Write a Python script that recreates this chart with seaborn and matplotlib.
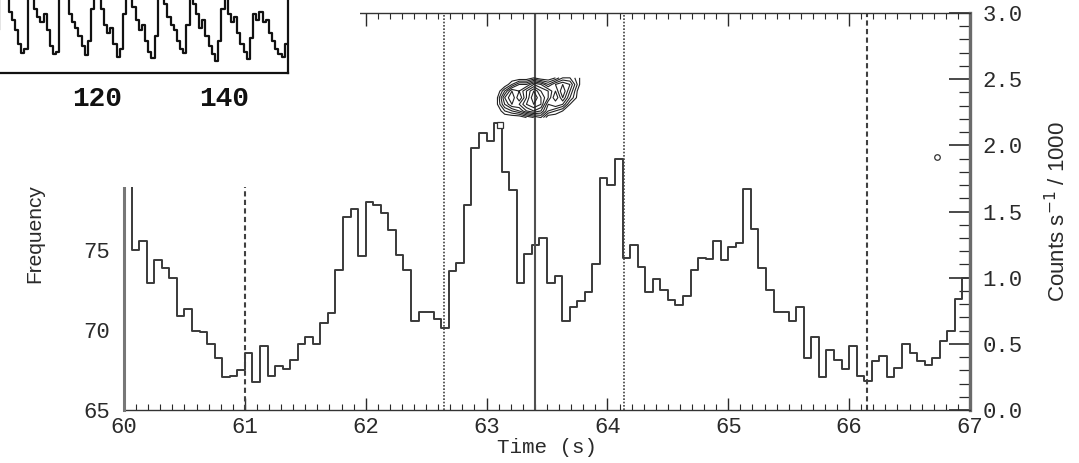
import numpy as np
import pandas as pd
import matplotlib
matplotlib.use("Agg")
import matplotlib.pyplot as plt
import seaborn as sns
from matplotlib import font_manager
from matplotlib.patches import Rectangle
from matplotlib.ticker import MultipleLocator

# ---------------- data ----------------
# main light curve: counts s^-1 / 1000 in 1/16 s bins starting at 60 s
t_start = 60.0
bin_width = 1.0 / 16.0
rate_k = [
    1.70, 1.21, 1.28, 0.96, 1.13, 1.07, 1.00, 0.71, 0.76, 0.60, 0.59, 0.50, 0.39, 0.25, 0.26, 0.30,
    0.43, 0.21, 0.48, 0.26, 0.33, 0.31, 0.38, 0.50, 0.55, 0.50, 0.66, 0.73, 1.06, 1.46, 1.52, 1.16,
    1.57, 1.55, 1.49, 1.36, 1.17, 1.06, 0.67, 0.74, 0.74, 0.69, 0.62, 1.05, 1.11, 1.55, 1.98, 2.09,
    2.03, 2.17, 1.80, 1.66, 0.96, 1.18, 1.25, 1.30, 0.96, 1.01, 0.67, 0.78, 0.82, 0.89, 1.10, 1.75,
    1.70, 1.90, 1.15, 1.25, 1.08, 0.89, 0.99, 0.91, 0.83, 0.79, 0.86, 1.06, 1.15, 1.14, 1.28, 1.13,
    1.23, 1.26, 1.67, 1.37, 1.07, 0.91, 0.74, 0.74, 0.67, 0.78, 0.39, 0.55, 0.25, 0.45, 0.38, 0.31,
    0.48, 0.26, 0.22, 0.37, 0.41, 0.25, 0.32, 0.50, 0.43, 0.37, 0.34, 0.39, 0.52, 0.60, 0.84, 1.00,
]

# long light curve in the inset, 0.5 s bins starting at 96 s
inset_start = 96.0
inset_width = 0.5
inset_rate = [
    1.6, 1.8, 1.5, 1.2, 0.9, 0.6, 0.45, 0.7, 1.3, 1.7,
    1.9, 1.6, 1.3, 0.9, 0.5, 0.4, 0.8, 1.5, 1.8, 1.45,
    1.15, 1.0, 0.8, 0.55, 0.38, 0.45, 1.5, 1.7, 1.2, 1.05,
    0.95, 1.1, 0.8, 0.5, 0.36, 0.4, 1.4, 1.9, 1.6, 1.1,
    0.95, 0.85, 0.7, 0.5, 0.33, 0.6, 1.2, 1.6, 1.8, 1.2,
    0.9, 0.75, 0.85, 0.55, 0.3, 0.45, 1.1, 1.7, 1.45, 1.25,
    1.0, 0.8, 0.9, 0.6, 0.4, 0.28, 0.7, 1.5, 1.9, 1.3,
    1.05, 0.9, 0.8, 0.6, 0.45, 0.38, 0.9, 1.6, 1.3, 1.1,
    0.85, 1.0, 0.7, 0.5, 0.35, 0.22, 0.6, 1.2, 1.45, 1.1,
    0.95, 1.05, 0.75, 0.55, 0.4, 0.26, 0.65, 1.1, 1.0, 1.15,
    0.95, 1.0, 0.75, 0.6, 0.45, 0.35, 0.3, 0.55,
]

# event markers (time s, value on the counts axis)
dashed_times = [61.0, 66.15]
dotted_times = [62.65, 64.14]
solid_times = [63.4]
square_mark = (63.11, 2.15)
circle_mark = (66.73, 1.91)

# intensity map shown as contours near the solid marker
map_t = [63.09, 63.15, 63.21, 63.27, 63.33, 63.39, 63.45, 63.51, 63.57, 63.63, 63.69, 63.77]
map_y = [2.51, 2.46, 2.41, 2.36, 2.31, 2.26, 2.21]
map_z = [
    [0, 0, 0, 0, 0, 1, 0, 0, 1, 3, 3, 1],
    [0, 0, 2, 4, 4, 6, 5, 3, 5, 6, 5, 1],
    [0, 3, 6, 5, 7, 9, 7, 6, 4, 7, 4, 0],
    [1, 5, 7, 4, 7, 10, 8, 6, 3, 6, 3, 0],
    [1, 4, 6, 6, 8, 9, 8, 4, 5, 4, 1, 0],
    [0, 2, 3, 4, 6, 7, 6, 3, 2, 1, 0, 0],
    [0, 0, 0, 0, 1, 2, 3, 0, 0, 0, 0, 0],
]
map_levels = [1.0, 2.0, 3.0, 4.0, 5.0, 6.0, 7.0, 8.0, 9.0]

freq_ticks = [65, 70, 75]
count_ticks = [0.0, 0.5, 1.0, 1.5, 2.0, 2.5, 3.0]
time_ticks = [60, 61, 62, 63, 64, 65, 66, 67]
inset_ticks = [100, 120, 140]

# ---------------- style ----------------
sns.set_style("white")


def has_font(name):
    try:
        font_manager.findfont(name, fallback_to_default=False)
        return True
    except Exception:
        return False


mono = "Liberation Mono" if has_font("Liberation Mono") else "DejaVu Sans Mono"
narrow = "Liberation Sans Narrow" if has_font("Liberation Sans Narrow") else "Liberation Sans"
plt.rcParams["font.family"] = [mono, "DejaVu Sans"]

ink = "#2a2a2a"
W, H = 1079, 463
fig = plt.figure(figsize=(W / 100, H / 100), dpi=100)
fig.patch.set_facecolor("white")


def fbox(x0, y_top, x1, y_bot):
    return [x0 / W, (H - y_bot) / H, (x1 - x0) / W, (y_bot - y_top) / H]


# ---------------- main panel ----------------
ax = fig.add_axes(fbox(124, 13, 970, 410))
edges = t_start + bin_width * np.arange(len(rate_k) + 1)
lc = pd.DataFrame({"time": edges, "rate": list(rate_k) + [rate_k[-1]]})
sns.lineplot(data=lc, x="time", y="rate", ax=ax, estimator=None, sort=False,
             drawstyle="steps-post", color="#3a3a3a", linewidth=1.4)

for t in dashed_times:
    ax.axvline(t, color="#404040", linewidth=1.5, linestyle=(0, (2.5, 1.6)))
for t in dotted_times:
    ax.axvline(t, color="#404040", linewidth=1.2, linestyle=(0, (1, 1)))
for t in solid_times:
    ax.axvline(t, color="#505050", linewidth=1.5)

ax.contour(map_t, map_y, np.array(map_z, dtype=float), levels=map_levels,
           colors="#222222", linewidths=0.8)
ax.plot([square_mark[0]], [square_mark[1]], marker="s", markersize=4,
        markerfacecolor="white", markeredgecolor="#333333", markeredgewidth=0.9, linestyle="none")
ax.plot([circle_mark[0]], [circle_mark[1]], marker="o", markersize=4,
        markerfacecolor="white", markeredgecolor="#333333", markeredgewidth=0.9, linestyle="none")

ax.set_xlim(60, 67)
ax.set_ylim(0, 3.0)
ax.set_xticks(time_ticks)
ax.set_xticklabels([str(v) for v in time_ticks])
ax.xaxis.set_minor_locator(MultipleLocator(0.1))
ax.yaxis.tick_right()
ax.set_yticks(count_ticks)
ax.set_yticklabels([f"{v:.1f}" for v in count_ticks])
ax.yaxis.set_minor_locator(MultipleLocator(0.1))
ax.tick_params(axis="x", which="both", direction="in", top=True, bottom=True,
               colors=ink, labelsize=16, pad=5)
ax.tick_params(axis="x", which="major", length=9, width=1.0)
ax.tick_params(axis="x", which="minor", length=4, width=0.8)
ax.tick_params(axis="y", which="both", direction="in", left=False, right=True,
               colors=ink, labelsize=16, pad=9)
ax.tick_params(axis="y", which="major", length=15, width=1.2)
ax.tick_params(axis="y", which="minor", length=8, width=0.9)
ax.set_xlabel("Time (s)", fontsize=15, color=ink)
ax.xaxis.set_label_coords(0.5, -0.071)
ax.yaxis.set_label_position("right")
ax.set_ylabel("Counts s$^{-1}$ / 1000", fontsize=16, color=ink, family=narrow)
ax.yaxis.set_label_coords(1.089, 0.5)
ax.spines["left"].set_visible(False)
ax.spines["right"].set_color("#6a6a6a")
ax.spines["right"].set_linewidth(2.4)
for s in ("top", "bottom"):
    ax.spines[s].set_color("#333333")
    ax.spines[s].set_linewidth(1.0)
ax.set_facecolor("none")

# ---------------- frequency scale on the left ----------------
axf = fig.add_axes(fbox(124, 187, 970, 410))
axf.set_facecolor("none")
axf.set_ylim(65, 65 + 223 / 16)
axf.set_xlim(0, 1)
axf.set_xticks([])
axf.set_yticks(freq_ticks)
axf.set_yticklabels([str(v) for v in freq_ticks])
axf.yaxis.set_minor_locator(MultipleLocator(1))
axf.tick_params(axis="y", which="both", direction="in", colors=ink, labelsize=16, pad=10)
axf.tick_params(axis="y", which="major", length=14, width=1.0)
axf.tick_params(axis="y", which="minor", length=8, width=0.9)
for s in ("top", "right", "bottom"):
    axf.spines[s].set_visible(False)
axf.spines["left"].set_color("#777777")
axf.spines["left"].set_linewidth(2.2)
axf.set_ylabel("Frequency", fontsize=15, color=ink, family=narrow)
axf.yaxis.set_label_coords(-0.094, 0.79)

# white panel behind the inset
cover = Rectangle((0, (H - 187) / H), 360 / W, 187 / H, transform=fig.transFigure,
                  facecolor="white", edgecolor="none", zorder=5)
fig.add_artist(cover)

# ---------------- inset ----------------
axi = fig.add_axes(fbox(-93, -60, 288, 73))
axi.set_zorder(10)
inset_edges = inset_start + inset_width * np.arange(len(inset_rate) + 1)
ins = pd.DataFrame({"time": inset_edges, "rate": list(inset_rate) + [inset_rate[-1]]})
sns.lineplot(data=ins, x="time", y="rate", ax=axi, estimator=None, sort=False,
             drawstyle="steps-post", color="#111111", linewidth=1.6)
axi.set_xlim(90, 150)
axi.set_ylim(0, 2.5)
axi.set_xticks(inset_ticks)
axi.set_xticklabels([str(v) for v in inset_ticks])
axi.xaxis.set_minor_locator(MultipleLocator(5))
axi.set_yticks([])
axi.tick_params(axis="x", which="both", direction="in", colors="#111111",
                labelsize=20, pad=9)
axi.tick_params(axis="x", which="major", length=12, width=1.2)
axi.tick_params(axis="x", which="minor", length=7, width=1.0)
for lab in axi.get_xticklabels():
    lab.set_fontweight("bold")
axi.set_xlabel("")
axi.set_ylabel("")
for s in axi.spines.values():
    s.set_color("#111111")
    s.set_linewidth(1.6)
axi.set_facecolor("white")

fig.savefig("out.png", dpi=100, facecolor="white")
